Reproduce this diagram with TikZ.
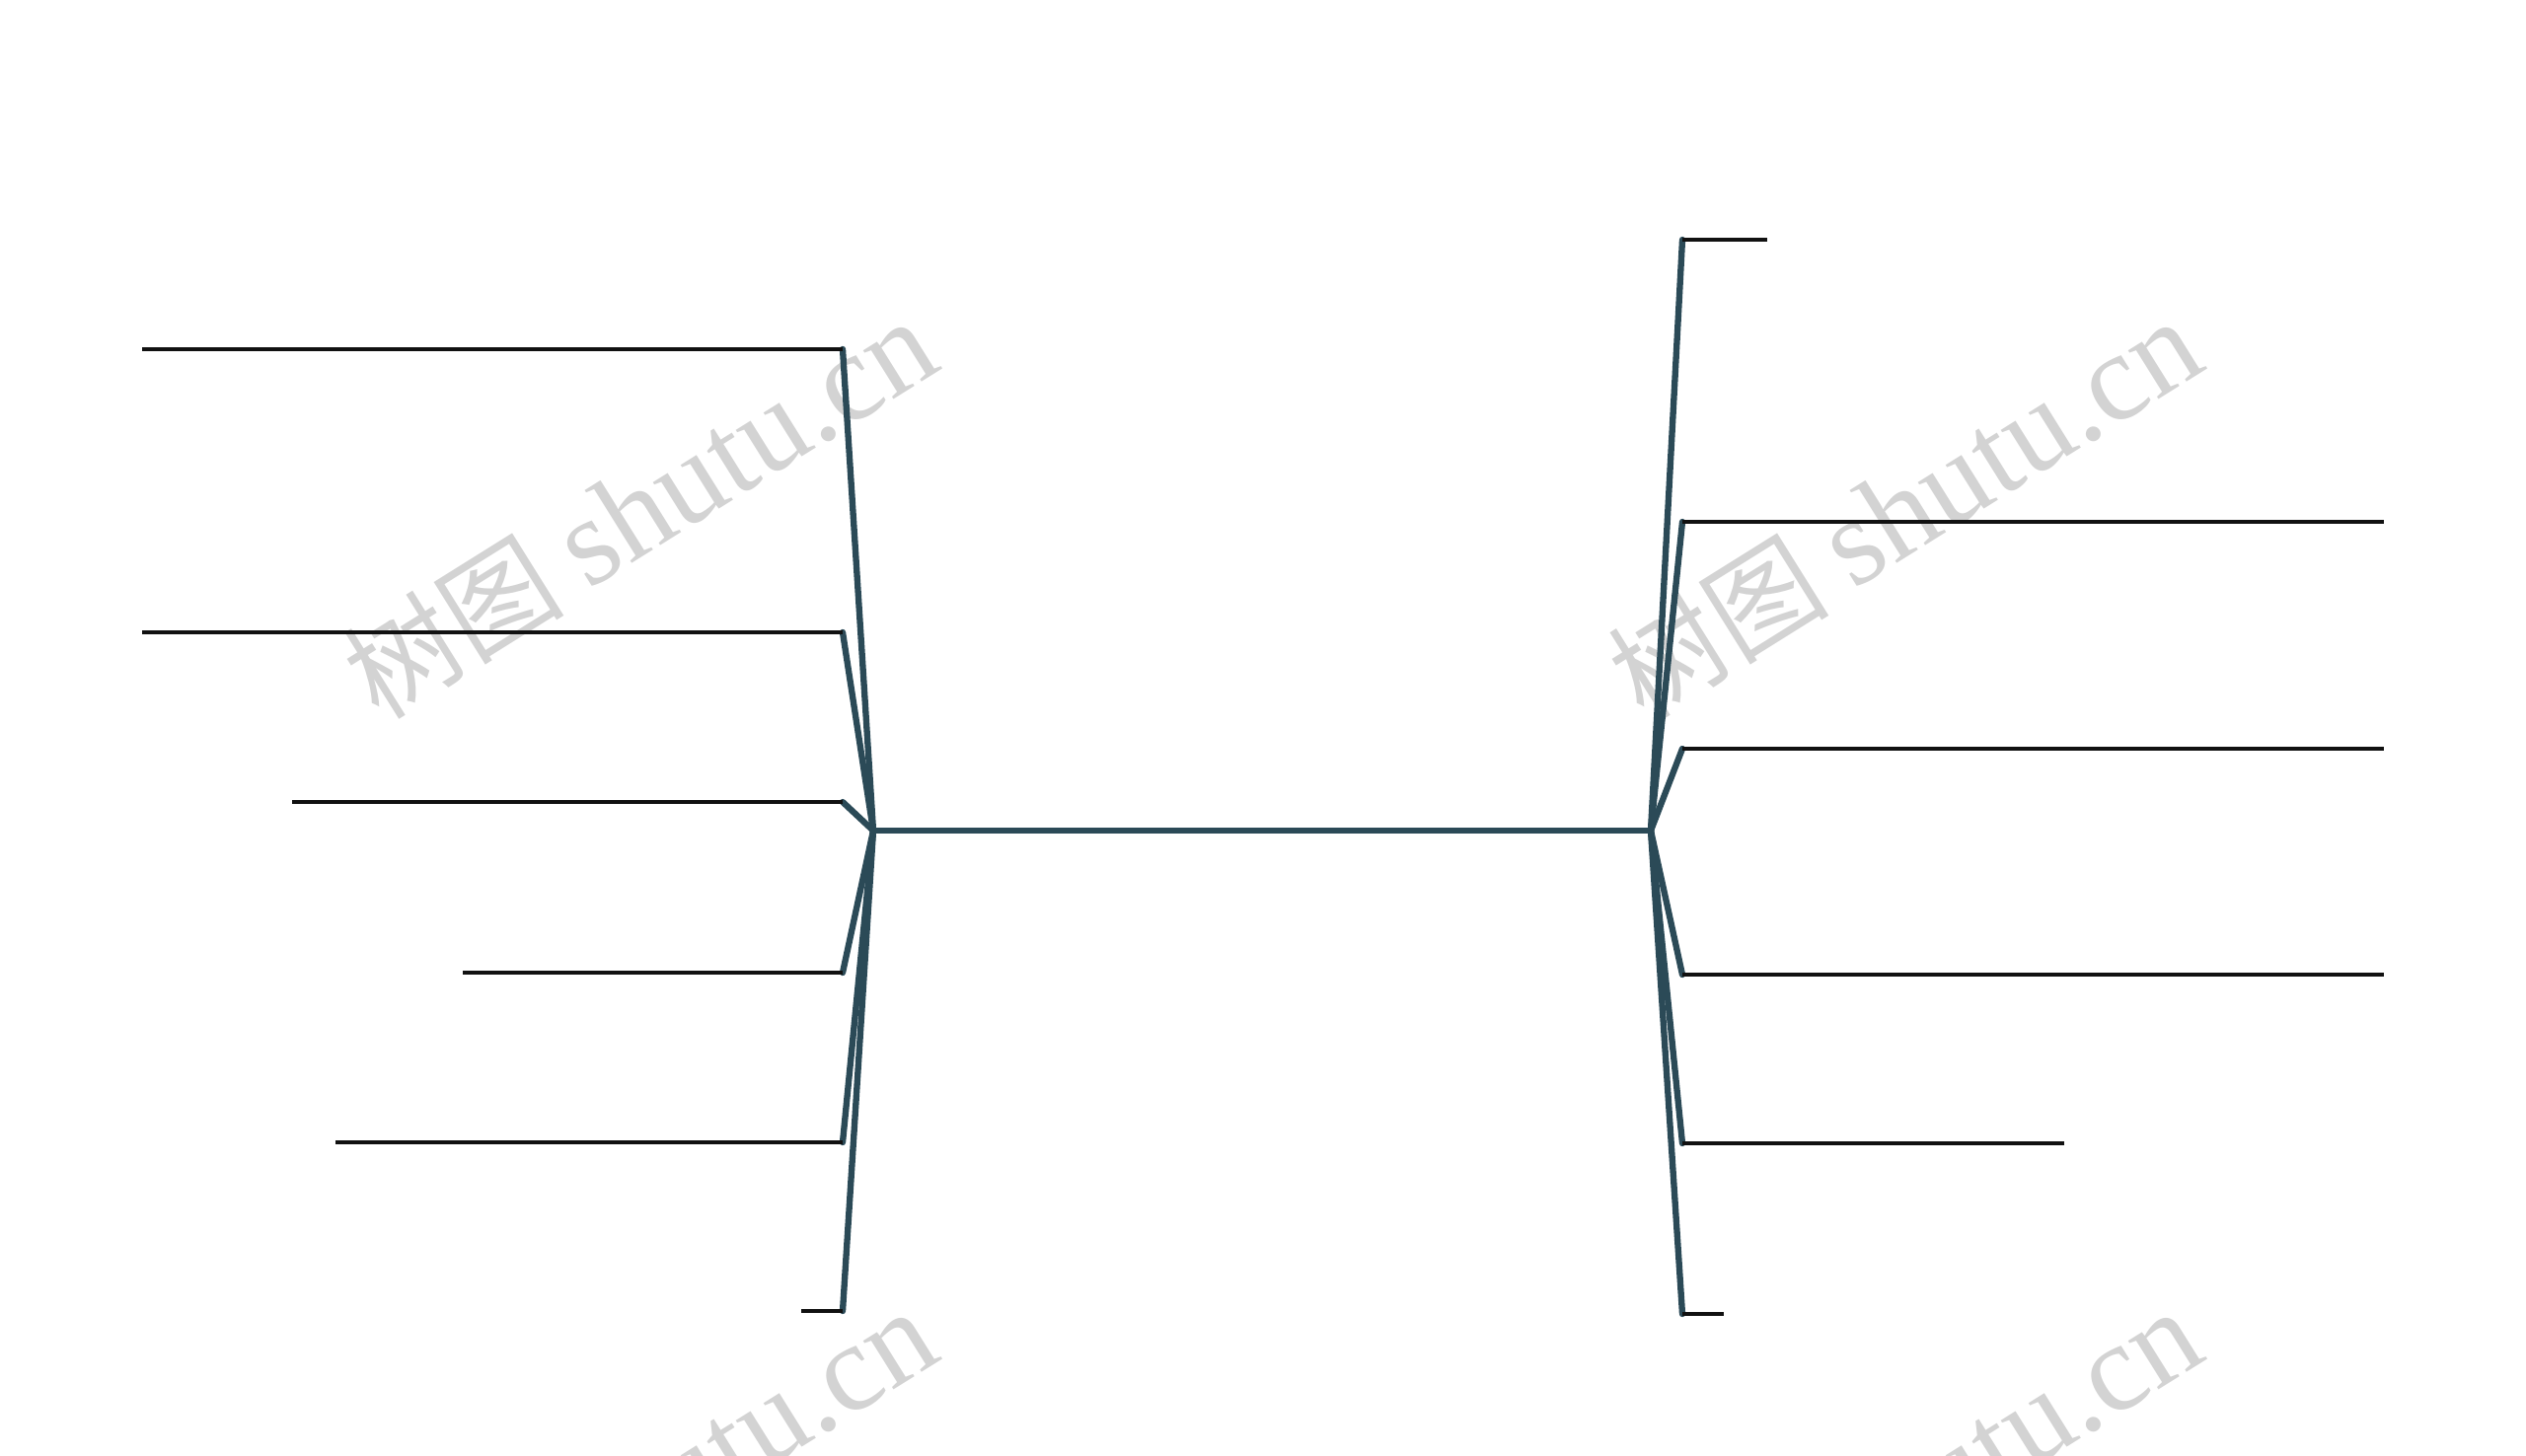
\documentclass[tikz,border=0pt]{standalone}
\usepackage{fontspec}
\setmainfont{Liberation Serif}
\newfontfamily\cjk{Noto Sans CJK SC}
\definecolor{stemcol}{HTML}{2B4A57}
\definecolor{leafcol}{HTML}{111111}
\definecolor{markcol}{HTML}{D3D3D3}
\newcommand{\wmtext}{{\cjk\fontsize{32}{32}\selectfont 树图}\hspace{0.2em}shutu.cn}

\begin{document}
\begin{tikzpicture}[x=0.01cm,y=-0.01cm,
    stemline/.style={stemcol,line width=1.8pt,line cap=round,line join=round},
    leafline/.style={leafcol,line width=1.4pt},
    watermark/.style={text=markcol,font=\fontsize{36}{36}\selectfont,rotate=32,inner sep=0pt}]
  \useasboundingbox (0,0) rectangle (2560,1476);

  % watermarks
  \begin{scope}
    \clip (0,0) rectangle (2560,1476);
    \node[watermark] (wm1) at (648,516) {\wmtext};
    \node[watermark] (wm2) at (1930,516) {\wmtext};
    \node[watermark] (wm3) at (648,1520) {\wmtext};
    \node[watermark] (wm4) at (1930,1520) {\wmtext};
  \end{scope}

  \coordinate (L) at (885,842);
  \coordinate (R) at (1673,842);
  \draw[stemline] (L) -- (R);

  % left side
  \foreach \y/\x [count=\i] in {354/144, 641/144, 813/296, 986/469, 1158/340, 1329/812} {
    \coordinate (l\i) at (854,\y);
    \coordinate (le\i) at (\x,\y);
    \draw[stemline] (L) -- (l\i);
    \draw[leafline] (l\i) -- (le\i);
  }

  % right side
  \foreach \y/\x [count=\i] in {243/1791, 529/2416, 759/2416, 988/2416, 1159/2092, 1332/1747} {
    \coordinate (r\i) at (1705,\y);
    \coordinate (re\i) at (\x,\y);
    \draw[stemline] (R) -- (r\i);
    \draw[leafline] (r\i) -- (re\i);
  }
\end{tikzpicture}
\end{document}
